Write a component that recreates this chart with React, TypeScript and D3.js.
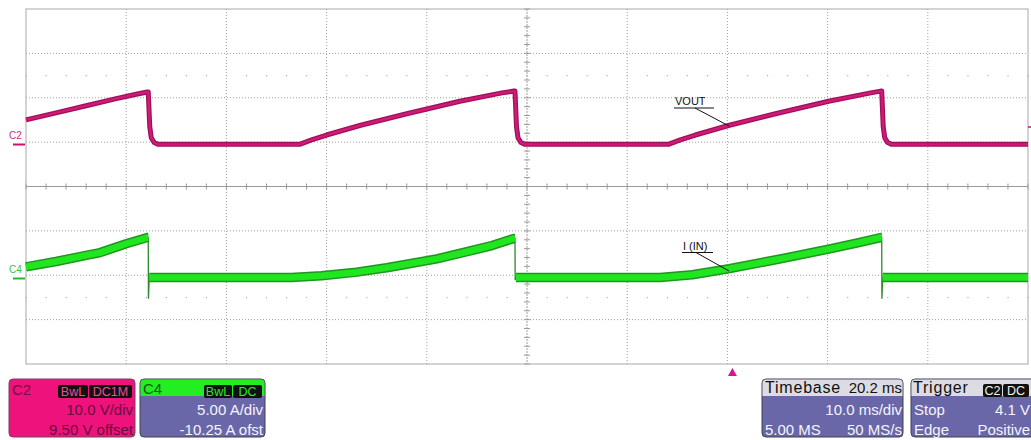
import React from "react";
import * as d3 from "d3";

// ---- data (time in ms, VOUT in V, I(IN) in A) ----
const voutT = [0, 3, 6, 9, 11, 12.1, 12.2, 12.35, 12.5, 12.8, 13.2, 27.3, 28.5, 30, 33.4, 38, 43.3, 47.5, 48.7, 48.8, 48.95, 49.1, 49.4, 49.8, 64.1, 65.3, 66.8, 70.2, 74.8, 80.1, 84.3, 85.3, 85.4, 85.55, 85.7, 86, 86.4, 100];
const voutV = [5.5, 7.1, 8.7, 10.3, 11.3, 11.8, 11.8, 4, 1.5, 0.4, 0, 0, 1.0, 2.1, 4.3, 6.9, 9.7, 11.6, 12.0, 12.0, 4, 1.5, 0.4, 0, 0, 1.0, 2.1, 4.3, 6.9, 9.7, 11.6, 12.0, 12.0, 4, 1.5, 0.4, 0, 0];
const iinT = [0, 3, 6, 7.4, 10, 12.1, 12.2, 12.22, 12.3, 26.5, 29.5, 33, 36, 41, 44, 46.5, 48.7, 48.8, 48.82, 48.9, 63.3, 66.5, 70.2, 75.3, 80.1, 83, 85.3, 85.4, 85.42, 85.5, 100];
const iinA = [1.2, 1.8, 2.5, 2.8, 3.8, 4.5, 4.5, -2.4, 0, 0, 0.2, 0.6, 1.1, 2.1, 2.9, 3.6, 4.4, 4.4, -0.3, 0, 0, 0.3, 1.0, 2.1, 3.2, 3.9, 4.5, 4.5, -2.4, 0, 0];
// samples that belong to the fast edges (drawn as thin lines only)
const iinEdge = [7, 18, 28];

const c2Lines = ["10.0 V/div", "9.50 V offset"];
const c4Lines = ["5.00 A/div", "-10.25 A ofst"];
const timebaseHeader = ["Timebase", "20.2 ms"];
const timebaseRows = [["", "10.0 ms/div"], ["5.00 MS", "50 MS/s"]];
const triggerRows = [["Stop", "4.1 V"], ["Edge", "Positive"]];

const FONT = "'Liberation Sans', Arial, sans-serif";
const PINK = "#ee127c";
const PURPLE = "#6a67a8";

export default function App() {
  const L = 26, R = 1028, T = 9, B = 364;
  const x = d3.scaleLinear().domain([0, 100]).range([L, R]);
  const div = d3.scaleLinear().domain([-4, 4]).range([B, T]);
  const yV = d3.scaleLinear().domain([-49.5, 30.5]).range([B, T]);
  const yA = d3.scaleLinear().domain([-9.75, 30.25]).range([B, T]);
  const cx = x(50), cy = div(0);

  const vLine = d3.line<number>().x((d, i) => x(voutT[i])).y((d) => yV(d));
  const iLine = d3.line<number>().x((d, i) => x(iinT[i])).y((d) => yA(d));
  // band segments: split at the fast-edge samples
  const bandSegs: number[][] = [];
  let cur: number[] = [];
  iinA.forEach((_, i) => {
    if (iinEdge.includes(i)) {
      if (cur.length) bandSegs.push(cur);
      cur = [];
    } else {
      cur.push(i);
    }
  });
  if (cur.length) bandSegs.push(cur);
  const segPath = (idx: number[]) => d3.line<number>().x((i) => x(iinT[i])).y((i) => yA(iinA[i]))(idx) || "";

  const vGrid = d3.range(1, 10).map((i) => x(i * 10));
  const hGrid = d3.range(-3, 4).map((i) => div(i));
  const xTicks = d3.range(0, 101, 2).map((t) => x(t));
  const yTicks = d3.range(-4, 4.01, 0.2).map((d) => div(d));
  const dotRows = [div(2.5), div(-2.5)];

  const box = (bx: number, by: number, w: number, label: string, color: string, key: string) => (
    <g key={key}>
      <rect x={bx} y={by} width={w} height={13} rx={2} fill="#111" />
      <text x={bx + w / 2} y={by + 11} textAnchor="middle" fontSize={12.5} fill={color} fontFamily={FONT}>{label}</text>
    </g>
  );

  return (
    <svg width={1031} height={440} style={{ position: "absolute", left: 0, top: 0, background: "#fff" }}>
      <rect width={1031} height={440} fill="#fff" />
      {/* grid */}
      {vGrid.map((gx, i) => i === 4 ? null : (
        <line key={"vg" + i} x1={gx} x2={gx} y1={T} y2={B} stroke="#a0a0a0" strokeDasharray="1,2" />
      ))}
      {hGrid.map((gy, i) => i === 3 ? null : (
        <line key={"hg" + i} x1={L} x2={R} y1={gy} y2={gy} stroke="#a0a0a0" strokeDasharray="1,2" />
      ))}
      {dotRows.map((ry, j) => xTicks.map((tx, i) => (
        <rect key={"dr" + j + "-" + i} x={tx - 0.5} y={ry - 0.5} width={1.2} height={1.2} fill="#b0b0b0" />
      )))}
      <line x1={L} x2={R} y1={cy} y2={cy} stroke="#9a9a9a" />
      <line x1={cx} x2={cx} y1={T} y2={B} stroke="#a0a0a0" strokeDasharray="2,1" />
      {xTicks.map((tx, i) => (
        <line key={"xt" + i} x1={tx} x2={tx} y1={cy - 3} y2={cy + 3} stroke="#9a9a9a" />
      ))}
      {yTicks.map((ty, i) => (
        <line key={"yt" + i} x1={cx - 3} x2={cx + 3} y1={ty} y2={ty} stroke="#9a9a9a" />
      ))}
      <rect x={L} y={T} width={R - L} height={B - T} fill="none" stroke="#a8a8a8" />

      {/* traces */}
      <path d={vLine(voutV) || ""} fill="none" stroke="#a0105a" strokeWidth={5} strokeLinejoin="round" />
      <path d={vLine(voutV) || ""} fill="none" stroke="#d01a78" strokeWidth={2.4} strokeLinejoin="round" />
      <path d={iLine(iinA) || ""} fill="none" stroke="#2a8a2a" strokeWidth={1.3} />
      {bandSegs.map((s, k) => (
        <path key={"bo" + k} d={segPath(s)} fill="none" stroke="#1f961f" strokeWidth={9.5} strokeLinejoin="round" />
      ))}
      {bandSegs.map((s, k) => (
        <path key={"bi" + k} d={segPath(s)} fill="none" stroke="#20e620" strokeWidth={6.5} strokeLinejoin="round" />
      ))}

      {/* channel markers */}
      <text x={9} y={139} fontSize={10} fill="#d02a80" fontFamily={FONT}>C2</text>
      <line x1={13} x2={25} y1={144.5} y2={144.5} stroke="#c8106e" strokeWidth={2} />
      <text x={9} y={273} fontSize={10} fill="#40c040" fontFamily={FONT}>C4</text>
      <line x1={13} x2={25} y1={278.5} y2={278.5} stroke="#30b030" strokeWidth={2} />
      <line x1={1028} x2={1031} y1={127} y2={127} stroke="#d0106e" strokeWidth={1.5} />
      <path d={`M${x(70.5)},368 L${x(70.5) - 4.5},376 L${x(70.5) + 4.5},376 Z`} fill="#d8168a" />

      {/* annotations */}
      <text x={675} y={105} fontSize={11} fontFamily={FONT} fill="#111">VOUT</text>
      <line x1={674} x2={714} y1={108} y2={108} stroke="#111" />
      <line x1={695} x2={729} y1={108} y2={126} stroke="#111" />
      <text x={683} y={250} fontSize={11} fontFamily={FONT} fill="#111">I (IN)</text>
      <line x1={682} x2={713} y1={252.5} y2={252.5} stroke="#111" />
      <line x1={696} x2={729} y1={252.5} y2={271} stroke="#111" />

      {/* C2 panel */}
      <rect x={9} y={379} width={126} height={58} rx={4} fill={PINK} stroke="#7a4060" />
      <text x={12} y={395} fontSize={15} fill="#7a0c44" fontFamily={FONT}>C2</text>
      {box(58, 385, 30, "BwL", "#f04a9a", "b1")}
      {box(89, 385, 43, "DC1M", "#f04a9a", "b2")}
      {c2Lines.map((s, i) => (
        <text key={"c2" + i} x={133} y={415 + i * 20} textAnchor="end" fontSize={15} fill="#6a0a3a" fontFamily={FONT}>{s}</text>
      ))}

      {/* C4 panel */}
      <rect x={140} y={379} width={125} height={58} rx={4} fill={PURPLE} stroke="#404050" />
      <path d="M140.5,396 L140.5,383 Q140.5,379.5 144,379.5 L261,379.5 Q264.5,379.5 264.5,383 L264.5,396 Z" fill="#22ee22" />
      <text x={143} y={394} fontSize={15} fill="#0a5a0a" fontFamily={FONT}>C4</text>
      {box(204, 385, 28, "BwL", "#22ee22", "b3")}
      {box(233, 385, 29, "DC", "#22ee22", "b4")}
      {c4Lines.map((s, i) => (
        <text key={"c4" + i} x={263} y={415 + i * 20} textAnchor="end" fontSize={15} fill="#f4f4ff" fontFamily={FONT}>{s}</text>
      ))}

      {/* Timebase panel */}
      <rect x={762} y={379} width={141} height={58} rx={4} fill={PURPLE} stroke="#404050" />
      <path d="M762.5,396 L762.5,383 Q762.5,379.5 766,379.5 L899,379.5 Q902.5,379.5 902.5,383 L902.5,396 Z" fill="#dcdce2" />
      <text x={765} y={393} fontSize={16} letterSpacing={0.8} fill="#111" fontFamily={FONT}>{timebaseHeader[0]}</text>
      <text x={902} y={393} textAnchor="end" fontSize={15} fill="#111" fontFamily={FONT}>{timebaseHeader[1]}</text>
      {timebaseRows.map((r, i) => (
        <g key={"tb" + i}>
          <text x={765} y={415 + i * 20} fontSize={15} fill="#f4f4ff" fontFamily={FONT}>{r[0]}</text>
          <text x={902} y={415 + i * 20} textAnchor="end" fontSize={15} fill="#f4f4ff" fontFamily={FONT}>{r[1]}</text>
        </g>
      ))}

      {/* Trigger panel */}
      <rect x={911} y={379} width={130} height={58} rx={4} fill={PURPLE} stroke="#404050" />
      <path d="M911.5,396 L911.5,383 Q911.5,379.5 915,379.5 L1040,379.5 L1040,396 Z" fill="#dcdce2" />
      <text x={913} y={393} fontSize={16} letterSpacing={0.8} fill="#111" fontFamily={FONT}>Trigger</text>
      {box(983, 384, 19, "C2", "#f0f0f0", "b5")}
      {box(1003, 384, 26, "DC", "#f0f0f0", "b6")}
      {triggerRows.map((r, i) => (
        <g key={"tr" + i}>
          <text x={914} y={415 + i * 20} fontSize={15} fill="#f4f4ff" fontFamily={FONT}>{r[0]}</text>
          <text x={1030} y={415 + i * 20} textAnchor="end" fontSize={15} fill="#f4f4ff" fontFamily={FONT}>{r[1]}</text>
        </g>
      ))}
    </svg>
  );
}
